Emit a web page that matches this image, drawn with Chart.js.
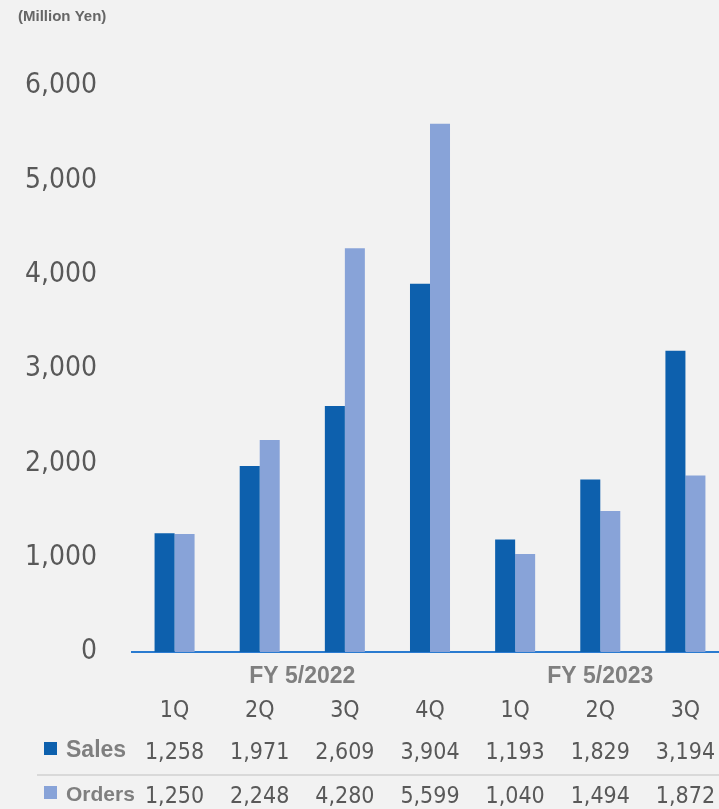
<!DOCTYPE html>
<html>
<head>
<meta charset="utf-8">
<script src="https://cdn.jsdelivr.net/npm/chart.js@4/dist/chart.umd.min.js"></script>
<style>
  html, body { margin: 0; padding: 0; background: #f2f2f2; overflow: hidden; }
  #wrap { width: 730px; height: 809px; position: relative; }
</style>
</head>
<body>
<div id="wrap"><canvas id="sales-chart"></canvas></div>
<script>
// quarterly sales / orders (million yen)
const quarters    = ["1Q", "2Q", "3Q", "4Q", "1Q", "2Q", "3Q"];
const fiscalYears = ["FY 5/2022", "FY 5/2022", "FY 5/2022", "FY 5/2022", "FY 5/2023", "FY 5/2023", "FY 5/2023"];
const salesData   = [1258, 1971, 2609, 3904, 1193, 1829, 3194];
const ordersData  = [1250, 2248, 4280, 5599, 1040, 1494, 1872];
const yTicks      = [0, 1000, 2000, 3000, 4000, 5000, 6000];

const SALES_COLOR  = "#0d60ad";
const ORDERS_COLOR = "#88a3d8";
const NUM_FONT     = "'DejaVu Sans Condensed', 'DejaVu Sans', sans-serif";
const BOLD_FONT    = "'Liberation Sans', Arial, sans-serif";

const fmt = v => v.toLocaleString("en-US");

// draws unit label, fiscal year groups, quarter row and the data table
const tablePlugin = {
    id: "dataTable",
    afterDraw(chart) {
        const ctx = chart.ctx;
        const x   = chart.scales.x;
        ctx.save();

        ctx.fillStyle    = "#666666";
        ctx.font         = "bold 15px " + BOLD_FONT;
        ctx.textAlign    = "left";
        ctx.textBaseline = "middle";
        ctx.fillText("(Million Yen)", 18, 17);

        // fiscal year group labels
        const groups = [];
        fiscalYears.forEach((fy, i) => {
            const last = groups[groups.length - 1];
            if (last && last.name === fy) last.end = i;
            else groups.push({ name: fy, start: i, end: i });
        });
        ctx.fillStyle = "#7f7f7f";
        ctx.font      = "bold 23px " + BOLD_FONT;
        ctx.textAlign = "center";
        groups.forEach(g => {
            const cx = (x.getPixelForValue(g.start) + x.getPixelForValue(g.end)) / 2;
            ctx.fillText(g.name, cx, 677);
        });

        // quarter labels
        ctx.fillStyle = "#595959";
        ctx.font      = "23px " + NUM_FONT;
        quarters.forEach((q, i) => ctx.fillText(q, x.getPixelForValue(i), 711));

        // table rows
        const rows = [
            { label: "Sales",  color: SALES_COLOR,  data: salesData,  y: 753, size: 23 },
            { label: "Orders", color: ORDERS_COLOR, data: ordersData, y: 797, size: 21 },
        ];
        rows.forEach(r => {
            ctx.fillStyle = r.color;
            ctx.fillRect(44, r.y - 11, 13, 13);
            ctx.fillStyle = "#7f7f7f";
            ctx.font      = "bold " + r.size + "px " + BOLD_FONT;
            ctx.textAlign = "left";
            ctx.fillText(r.label, 66, r.y - 2);
            ctx.fillStyle = "#595959";
            ctx.font      = "23px " + NUM_FONT;
            ctx.textAlign = "center";
            r.data.forEach((v, i) => ctx.fillText(fmt(v), x.getPixelForValue(i), r.y));
        });

        // separator between rows
        ctx.strokeStyle = "#d9d9d9";
        ctx.lineWidth   = 2;
        ctx.beginPath();
        ctx.moveTo(37, 775);
        ctx.lineTo(chart.width, 775);
        ctx.stroke();

        ctx.restore();
    }
};

new Chart(document.getElementById("sales-chart"), {
    type: "bar",
    data: {
        labels: quarters,
        datasets: [
            { label: "Sales",  data: salesData,  backgroundColor: SALES_COLOR },
            { label: "Orders", data: ordersData, backgroundColor: ORDERS_COLOR },
        ]
    },
    options: {
        responsive:          true,
        maintainAspectRatio: false,
        animation:           false,
        layout: { padding: { top: 86, bottom: 149, left: 0, right: 2 } },
        datasets: { bar: { categoryPercentage: 0.47, barPercentage: 1 } },
        scales: {
            x: {
                grid:   { display: false },
                border: { display: true, color: "#2a7bd0", width: 2 },
                ticks:  { display: false },
            },
            y: {
                min: 0,
                max: 6000,
                afterBuildTicks: axis => { axis.ticks = yTicks.map(v => ({ value: v })); },
                afterFit: axis => { axis.width = 132; },
                grid:   { display: false, drawTicks: false },
                border: { display: false },
                ticks:  {
                    color: "#595959",
                    padding: 35,
                    font: { family: NUM_FONT, size: 28 },
                    callback: v => fmt(v),
                },
            }
        },
        plugins: {
            legend:  { display: false },
            tooltip: { enabled: false },
        }
    },
    plugins: [tablePlugin]
});
</script>
</body>
</html>
